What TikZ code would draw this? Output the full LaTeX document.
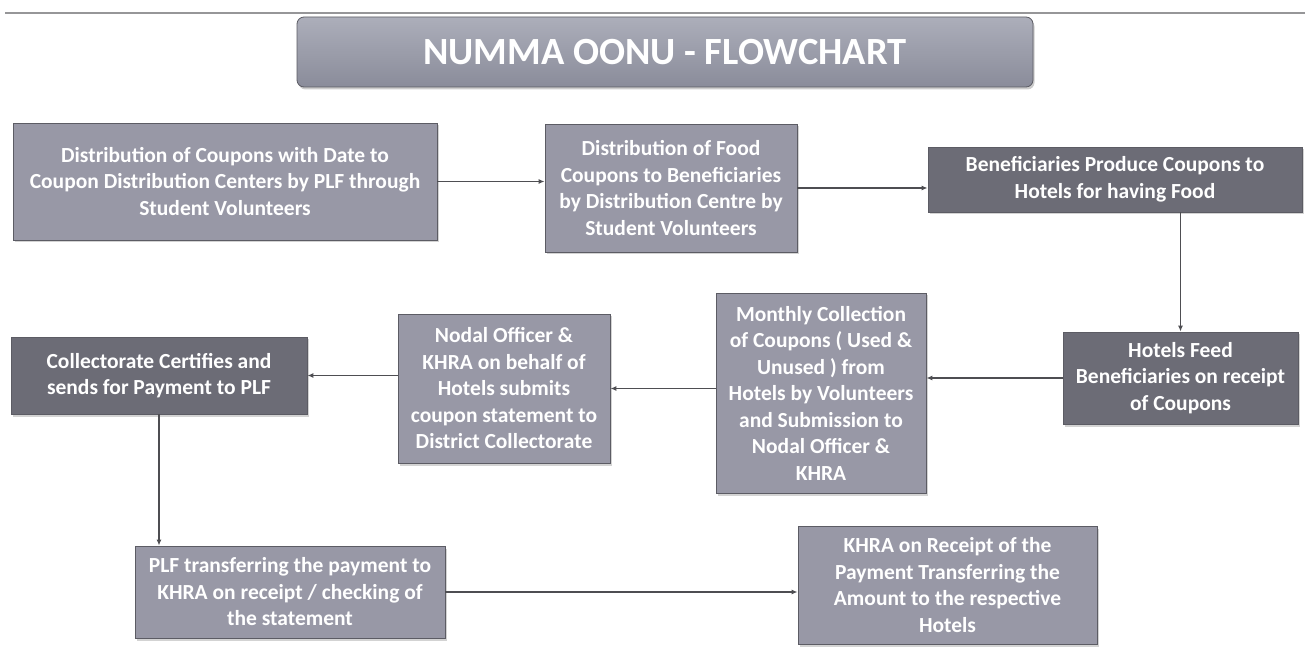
\documentclass[tikz,border=0pt]{standalone}
\usepackage{fontspec}
\setmainfont{Carlito}
\usetikzlibrary{arrows.meta}
\usetikzlibrary{shadows}
\usetikzlibrary{calc}

\definecolor{boxlight}{RGB}{152,152,166}
\definecolor{boxdark}{RGB}{108,108,118}
\definecolor{boxedge}{RGB}{92,92,100}
\definecolor{titletop}{RGB}{172,174,186}
\definecolor{titlebottom}{RGB}{138,140,154}
\definecolor{flowgrey}{RGB}{78,78,82}
\definecolor{rulegrey}{RGB}{150,150,152}

\tikzset{
  stage/.style={draw=boxedge, line width=0.8pt, fill=boxlight, text=white,
    font=\bfseries\fontsize{21.5}{26.5}\selectfont, align=center, inner sep=0pt,
    drop shadow={shadow xshift=1.5pt, shadow yshift=-2.5pt, opacity=0.35}},
  darkstage/.style={stage, fill=boxdark},
  headbox/.style={draw=boxedge, line width=0.8pt, rounded corners=7pt,
    top color=titletop, bottom color=titlebottom, text=white,
    font=\bfseries\fontsize{38.5}{42}\selectfont,
    drop shadow={shadow xshift=1.5pt, shadow yshift=-2.5pt, opacity=0.4}},
  flow/.style={draw=flowgrey, line width=1.3pt, -{Latex[length=6pt,width=5pt]}},
}

% name, style, centre, width, height, text
\newcommand\stage[6]{
  \node[#2, minimum width=#4pt, minimum height=#5pt] (#1) at (#3) {#6};
}

\begin{document}
\begin{tikzpicture}[x=1pt,y=-1pt]
  \useasboundingbox (0,0) rectangle (1310,652);

  % heading
  \draw[rulegrey, line width=1.5pt] (5,13) -- (1305,13);
  \node[headbox, minimum width=736pt, minimum height=70pt] (head) at (665,52)
    {NUMMA OONU - FLOWCHART};

  % top row
  \stage{coupons}{stage}{225,181.5}{424}{117}
    {Distribution of Coupons with Date to\\Coupon Distribution Centers by PLF through\\Student Volunteers}
  \stage{food}{stage}{671,188}{252}{128}
    {Distribution of Food\\Coupons to Beneficiaries\\by Distribution Centre by\\Student Volunteers}
  \stage{produce}{darkstage}{1115,179.5}{374}{65}
    {Beneficiaries Produce Coupons to\\Hotels for having Food}

  % middle row
  \stage{feed}{darkstage}{1180.5,378}{235}{92}
    {Hotels Feed\\Beneficiaries on receipt\\of Coupons}
  \stage{monthly}{stage}{821,393}{210}{200}
    {Monthly Collection\\of Coupons ( Used \&\\Unused ) from\\Hotels by Volunteers\\and Submission to\\Nodal Officer \&\\KHRA}
  \stage{nodal}{stage}{504,388.5}{212}{149}
    {Nodal Officer \&\\KHRA on behalf of\\Hotels submits\\coupon statement to\\District Collectorate}
  \stage{certify}{darkstage}{159,375.5}{296}{77}
    {Collectorate Certifies and\\sends for Payment to PLF}

  % bottom row
  \stage{transfer}{stage}{290,592}{310}{92}
    {PLF transferring the payment to\\KHRA on receipt / checking of\\the statement}
  \stage{receipt}{stage}{947.5,585}{299}{118}
    {KHRA on Receipt of the\\Payment Transferring the\\Amount to the respective\\Hotels}

  % connectors
  \draw[flow] (coupons) -- (coupons -| food.west);
  \draw[flow] (food) -- (food -| produce.west);
  \draw[flow] (produce.south -| feed) -- (feed);
  \draw[flow] (feed) -- (feed -| monthly.east);
  \draw[flow] (nodal -| monthly.west) -- (nodal.east);
  \draw[flow] (certify -| nodal.west) -- (certify.east);
  \draw[flow] (certify) -- (certify |- transfer.north);
  \draw[flow] (transfer) -- (transfer -| receipt.west);

\end{tikzpicture}
\end{document}
